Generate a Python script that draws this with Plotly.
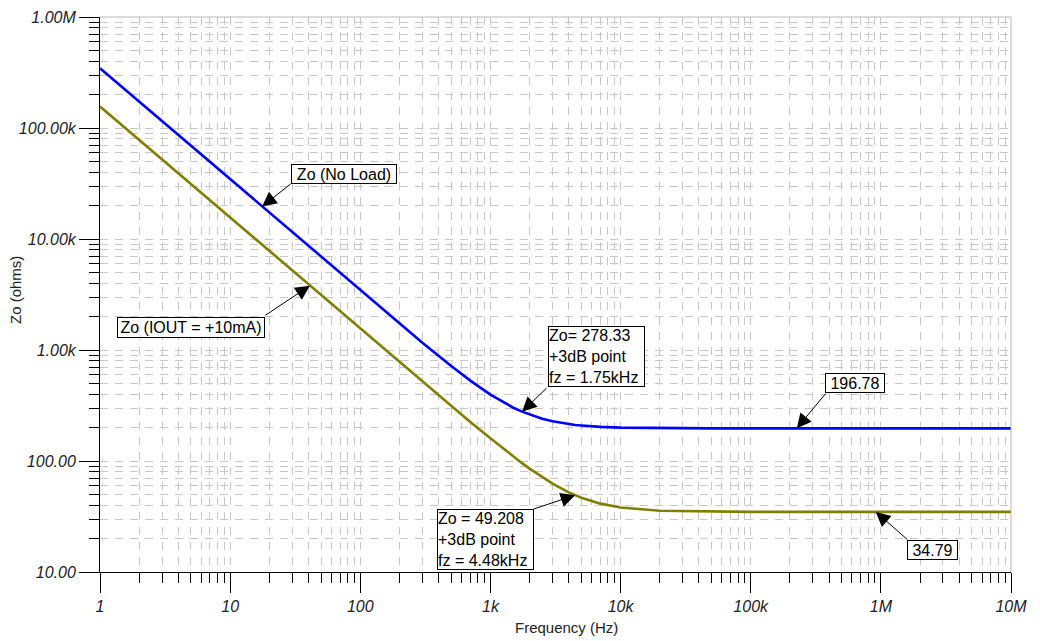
import numpy as np
import plotly.graph_objects as go

# ---------------- data ----------------
freq_hz = [1, 10, 100, 200, 300, 500, 700, 1000, 1250, 1500, 1750, 2000, 2500, 3000,
           4000, 4480, 5000, 7000, 10000, 20000, 50000, 100000, 1000000, 10000000]
zo_no_load = [345000, 34500, 3450, 1733, 1165, 716, 530, 397, 339, 302, 278.33, 262, 240, 228,
              215, 211, 209, 203, 200, 197.5, 196.9, 196.8, 196.78, 196.78]
zo_iout_10ma = [156000, 15600, 1560, 780, 520, 314, 225, 160, 129.4, 109.6, 95.6, 85.3, 71.4, 62.5,
                52.2, 49.208, 46.7, 41.3, 38.1, 35.65, 34.96, 34.83, 34.79, 34.79]

series_names = ["Zo (No Load)", "Zo (IOUT = +10mA)"]

x_tick_vals = [1, 10, 100, 1e3, 1e4, 1e5, 1e6, 1e7]
x_tick_text = ["1", "10", "100", "1k", "10k", "100k", "1M", "10M"]
y_tick_vals = [10, 100, 1e3, 1e4, 1e5, 1e6]
y_tick_text = ["10.00", "100.00", "1.00k", "10.00k", "100.00k", "1.00M"]

# annotation labels: (text, head freq, head Zo)
label_texts = ["Zo (No Load)", "Zo (IOUT = +10mA)",
               "Zo= 278.33<br>+3dB point<br>fz = 1.75kHz",
               "Zo = 49.208<br>+3dB point<br>fz = 4.48kHz",
               "196.78", "34.79"]
label_head_f = [17.6, 41, 1750, 4480, 226000, 914000]
label_head_z = [19600, 3800, 278.33, 49.208, 196.78, 34.79]

# ---------------- styling ----------------
FONT = "Arial, Liberation Sans, sans-serif"
GRID = "#c8c8c8"
DASH = "8px,7px"

# the page body has an 8px default margin; size the figure so the plot area lands
# at x 100..1011, y 17..572 of the 1040x641 window
BODY = 8
W, H = 1040 - BODY, 641 - BODY
ML, MR, MT, MB = 100 - BODY, 29, 17 - BODY, 69

x_minor = [m * 10 ** k for k in range(0, 7) for m in range(2, 10)]
y_minor = [m * 10 ** k for k in range(1, 6) for m in range(2, 10)]

fig = go.Figure()
fig.add_trace(go.Scatter(x=freq_hz, y=zo_no_load, mode="lines", name=series_names[0],
                         line=dict(color="#0000ff", width=2.6)))
fig.add_trace(go.Scatter(x=freq_hz, y=zo_iout_10ma, mode="lines", name=series_names[1],
                         line=dict(color="#808000", width=2.6)))

axis_common = dict(
    type="log", showline=True, linecolor="black", linewidth=1,
    ticks="outside", ticklen=20, tickcolor="black", tickwidth=1,
    tickmode="array", showgrid=True, gridcolor=GRID, griddash=DASH, gridwidth=1,
    zeroline=False, automargin=False,
    tickfont=dict(family=FONT, size=16, color="#222", style="italic"),
)

fig.update_xaxes(
    **axis_common, range=[0, 7], tickvals=x_tick_vals, ticktext=x_tick_text,
    minor=dict(tickmode="array", tickvals=x_minor, ticks="outside", ticklen=10,
               tickcolor="black", showgrid=True, gridcolor=GRID, griddash=DASH, gridwidth=1),
)
fig.update_yaxes(
    **axis_common, range=[1, 6], tickvals=y_tick_vals, ticktext=y_tick_text,
    minor=dict(tickmode="array", tickvals=y_minor, ticks="outside", ticklen=10,
               tickcolor="black", showgrid=True, gridcolor=GRID, griddash=DASH, gridwidth=1),
)

# box geometry: (center paper x, center paper y, width, height, align)
box_geom = [
    (0.2678, 0.7171, 106, 20, "center"),
    (0.0999, 0.4405, 148, 21, "center"),
    (0.5450, 0.3883, 97, 61, "left"),
    (0.4232, 0.0586, 97, 61, "left"),
    (0.8288, 0.3405, 60, 20, "center"),
    (0.9138, 0.0396, 51, 20, "center"),
]
arrow_tail = [(29, -23), (-45, 30), (25, -24), (-42, 14), (29, -35), (32, 28)]

annotations = []
for txt, hf, hz, (bx, by, bw, bh, al), (ax, ay) in zip(label_texts, label_head_f, label_head_z,
                                                         box_geom, arrow_tail):
    annotations.append(dict(
        x=np.log10(hf), y=np.log10(hz), xref="x", yref="y", text="", showarrow=True,
        ax=ax, ay=ay, axref="pixel", ayref="pixel", arrowhead=2, arrowsize=2.9,
        arrowwidth=1, arrowcolor="black", standoff=0, startstandoff=0, borderpad=0,
    ))
    annotations.append(dict(
        x=bx, y=by, xref="paper", yref="paper", text=txt, showarrow=False,
        xanchor="center", yanchor="middle", width=bw - 2, height=bh - 2, align=al,
        valign="middle", bgcolor="white", bordercolor="black", borderwidth=1, borderpad=0,
        font=dict(family=FONT, size=16, color="black"),
    ))

# axis titles
annotations.append(dict(x=(566 - 100) / 911, y=(572 - 627) / 555, xref="paper", yref="paper",
                        text="Frequency (Hz)", showarrow=False, xanchor="center", yanchor="middle",
                        font=dict(family=FONT, size=15, color="#222")))
annotations.append(dict(x=(15 - 100) / 911, y=(572 - 290) / 555, xref="paper", yref="paper",
                        text="Zo (ohms)", showarrow=False, xanchor="center", yanchor="middle",
                        textangle=-90, font=dict(family=FONT, size=15, color="#222")))

fig.update_layout(
    width=W, height=H,
    margin=dict(l=ML, r=MR, t=MT, b=MB),
    paper_bgcolor="white", plot_bgcolor="white",
    showlegend=False,
    annotations=annotations,
    shapes=[
        dict(type="line", xref="paper", yref="paper", x0=0, x1=1, y0=1, y1=1,
             line=dict(color="#b8b8b8", width=1)),
        dict(type="line", xref="paper", yref="paper", x0=1, x1=1, y0=0, y1=1,
             line=dict(color="#b8b8b8", width=1)),
    ],
)

fig.write_html("out.html")
